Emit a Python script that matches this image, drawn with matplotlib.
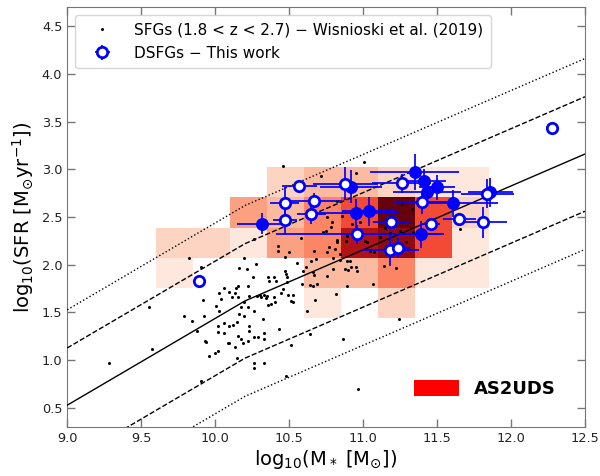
import numpy as np
import matplotlib
matplotlib.use("Agg")
import matplotlib.pyplot as plt
from matplotlib.patches import Patch

# ---------------- data ----------------
# SFGs (Wisnioski et al. 2019) : log M*, log SFR
sfg_m = [9.821, 9.902, 9.917, 9.552, 9.790, 9.846, 9.924, 10.023, 10.007, 10.023,
         9.879, 10.018, 9.929, 9.940, 10.018, 10.0, 9.960, 9.570, 9.283, 9.906,
         10.478,
         10.462, 10.718, 10.26, 10.583, 10.727, 10.422, 10.422, 10.50, 10.474, 10.647,
         10.669, 10.680, 10.198, 10.164, 10.213, 10.276, 10.552, 10.472, 10.478, 10.485,
         10.258, 10.355, 10.395, 10.411, 10.361, 10.597, 10.662, 10.669, 10.691, 10.66,
         10.64, 10.59, 10.483, 10.676, 10.059, 10.041, 10.142, 10.153, 10.112, 10.157,
         10.097, 10.131, 10.220, 10.28, 10.30, 10.31, 10.33, 10.345, 10.35, 10.395,
         10.404, 10.378, 10.355, 10.442, 10.456, 10.494, 10.523, 10.512, 10.528, 10.231,
         10.193, 10.220, 10.176, 10.164, 10.193, 10.26, 10.018, 10.063, 10.097, 10.124,
         10.149, 10.063, 10.231, 10.231, 10.26, 10.287, 10.328, 10.157, 10.176, 10.085,
         10.097, 10.220, 10.332, 10.186, 10.131, 10.512, 10.149, 10.265, 10.332, 10.265,
         10.326, 10.433, 10.624, 10.613, 10.642,
         11.005, 10.95, 10.826, 10.754, 10.792, 10.781, 10.748, 10.822, 10.822, 10.77,
         10.808, 10.844, 10.758, 10.799, 10.844, 10.893, 10.911, 10.877, 10.90, 10.916,
         10.954, 10.956, 10.799, 10.758, 10.889, 11.068, 10.819, 10.86, 10.889, 10.882,
         10.923, 10.978, 10.983, 11.01, 11.024, 11.05, 11.14, 11.225, 11.111, 11.145,
         11.185, 11.263, 11.331, 11.252, 11.293, 11.337, 11.387, 11.076, 11.241, 10.866,
         10.965, 11.656]
sfg_s = [2.072, 1.973, 1.631, 1.553, 1.462, 1.406, 1.462, 1.70, 1.571, 1.518,
         1.301, 1.298, 1.203, 1.193, 1.098, 1.08, 1.039, 1.116, 0.969, 0.783,
         0.833,
         3.037, 2.932, 2.274, 2.282, 2.348, 2.201, 2.148, 2.138, 2.085, 2.043,
         2.148, 2.061, 2.068, 1.966, 1.959, 2.009, 2.022, 1.938, 1.904, 1.875,
         1.875, 1.875, 1.875, 1.826, 1.833, 1.931, 1.925, 1.893, 1.799, 1.781,
         1.791, 1.799, 1.816, 1.631, 1.757, 1.641, 1.757, 1.781, 1.666, 1.659,
         1.718, 1.70, 1.781, 1.67, 1.68, 1.665, 1.685, 1.655, 1.67, 1.666,
         1.606, 1.589, 1.578, 1.70, 1.741, 1.68, 1.68, 1.617, 1.606, 1.669,
         1.606, 1.56, 1.56, 1.484, 1.459, 1.518, 1.361, 1.385, 1.361, 1.371,
         1.40, 1.29, 1.361, 1.308, 1.245, 1.245, 1.28, 1.256, 1.221, 1.175,
         1.185, 1.203, 1.221, 1.175, 1.133, 1.161, 1.022, 0.975, 0.975, 0.923,
         1.43, 1.326, 1.511, 1.973, 1.274,
         3.076, 2.96, 2.673, 2.498, 2.445, 2.393, 2.358, 2.26, 2.236, 2.183,
         2.166, 2.113, 2.13, 2.071, 2.05, 2.043, 2.043, 1.956, 1.946, 1.973,
         1.98, 1.938, 1.956, 1.886, 1.781, 1.799, 1.694, 2.516, 2.306, 2.253,
         2.428, 2.445, 2.306, 2.253, 2.236, 2.148, 1.991, 1.966, 2.295, 2.387,
         2.33, 2.638, 2.586, 2.358, 2.236, 2.34, 2.271, 2.13, 1.43, 1.221,
         0.696, 2.37]

# DSFGs (this work) - filled symbols
fill_m = [10.32, 10.92, 11.35, 11.41, 11.50, 11.43, 10.95, 11.04, 11.61, 11.39, 11.86]
fill_s = [2.43, 2.82, 2.97, 2.88, 2.81, 2.76, 2.54, 2.56, 2.645, 2.32, 2.76]
fill_xerr = [0.17, 0.21, 0.30, 0.15, 0.12, 0.23, 0.30, 0.18, 0.30, 0.16, 0.15]
fill_yerr = [0.11, 0.17, 0.19, 0.12, 0.13, 0.14, 0.15, 0.15, 0.14, 0.14, 0.15]

# DSFGs (this work) - open symbols
open_m = [10.57, 10.47, 10.67, 10.47, 10.65, 10.88, 11.26, 11.40, 11.19, 10.96,
          11.46, 11.185, 11.235, 11.65, 11.81, 11.84, 9.89, 12.28]
open_s = [2.83, 2.65, 2.67, 2.47, 2.53, 2.85, 2.855, 2.655, 2.445, 2.32,
          2.43, 2.155, 2.18, 2.48, 2.445, 2.745, 1.83, 3.43]
open_xerr = [0.12, 0.10, 0.19, 0.08, 0.10, 0.22, 0.20, 0.20, 0.12, 0.55,
             0.06, 0.19, 0.08, 0.11, 0.16, 0.18, 0.0, 0.0]
open_yerr = [0.05, 0.17, 0.08, 0.15, 0.10, 0.17, 0.10, 0.12, 0.06, 0.10,
             0.05, 0.17, 0.10, 0.06, 0.16, 0.15, 0.0, 0.0]

# AS2UDS 2D histogram (counts), rows from low to high SFR
as2_xedges = [9.60, 9.85, 10.10, 10.35, 10.60, 10.85, 11.10, 11.35, 11.60, 11.85]
as2_yedges = [1.445, 1.76, 2.075, 2.39, 2.705, 3.02]
as2_counts = [
    [0, 0, 0, 0, 1, 0, 2, 0, 0],
    [1, 0, 0, 0, 3, 3, 5, 1, 1],
    [2, 2, 1, 4, 5, 10, 11, 7, 1],
    [0, 0, 4, 3, 5, 7, 12, 7, 2],
    [0, 0, 0, 2, 3, 3, 2, 1, 1],
]

# Main sequence: Whitaker et al. (2014) broken power law, 2.0<z<2.5
ms_a_low, ms_a_high, ms_c, ms_break = 0.91, 0.67, 1.62, 10.2
ms_offsets_dashed = 0.6
ms_offsets_dotted = 1.0

# ---------------- figure ----------------
fig = plt.figure(figsize=(6.0, 4.76), dpi=100)
ax = fig.add_axes([0.112, 0.103, 0.863, 0.882])

counts = np.ma.masked_equal(np.array(as2_counts, dtype=float), 0)
ax.pcolormesh(as2_xedges, as2_yedges, counts, cmap='Reds', vmin=0,
              vmax=np.max(as2_counts), zorder=1, edgecolors='none')

ax.plot(sfg_m, sfg_s, 'o', color='black', ms=2.2, mew=0, zorder=2,
        label='SFGs (1.8 < z < 2.7) \u2212 Wisnioski et al. (2019)', linestyle='none')

xx = np.linspace(9.0, 12.5, 400)
ms = np.where(xx < ms_break, ms_a_low * (xx - ms_break), ms_a_high * (xx - ms_break)) + ms_c
ax.plot(xx, ms, '-', color='black', lw=1.0, zorder=3)
ax.plot(xx, ms + ms_offsets_dashed, '--', color='black', lw=1.0, zorder=3)
ax.plot(xx, ms - ms_offsets_dashed, '--', color='black', lw=1.0, zorder=3)
ax.plot(xx, ms + ms_offsets_dotted, ':', color='black', lw=1.0, zorder=3)
ax.plot(xx, ms - ms_offsets_dotted, ':', color='black', lw=1.0, zorder=3)

ax.errorbar(fill_m, fill_s, xerr=fill_xerr, yerr=fill_yerr, fmt='o', color='blue',
            ms=8.3, mfc='blue', mec='blue', elinewidth=1.25, capsize=0, zorder=4)
eo = ax.errorbar(open_m, open_s, xerr=open_xerr, yerr=open_yerr, fmt='o', color='blue',
                 ms=7.5, mfc='white', mec='blue', mew=2, elinewidth=1.25, capsize=0,
                 zorder=5, label='DSFGs \u2212 This work')

ax.set_xlim(9.0, 12.5)
ax.set_ylim(0.3, 4.7)
ax.set_xticks(np.arange(9.0, 12.51, 0.5))
ax.set_yticks(np.arange(0.5, 4.51, 0.5))
ax.tick_params(direction='in', top=True, right=True, length=6, width=1,
               color='#777777', labelsize=9.3, labelcolor='#222222')
for sp in ax.spines.values():
    sp.set_color('#777777')

ax.set_xlabel('log$_{10}$(M$_*$ [M$_{\\odot}$])', fontsize=14, labelpad=2)
ax.set_ylabel('log$_{10}$(SFR [M$_{\\odot}$yr$^{-1}$])', fontsize=14, labelpad=4)

leg1 = ax.legend(loc='upper left', fontsize=11, frameon=True, fancybox=True,
                 edgecolor='#cccccc', handlelength=2.6, handletextpad=0.8,
                 labelspacing=0.55, borderpad=0.5)
ax.add_artist(leg1)
ax.legend(handles=[Patch(facecolor='red', edgecolor='none')], labels=['AS2UDS'],
          loc='lower right', frameon=False, handlelength=2.5, handleheight=1.0,
          prop={'weight': 'bold', 'size': 13}, bbox_to_anchor=(0.975, 0.03))

fig.savefig('out.png', dpi=100)
